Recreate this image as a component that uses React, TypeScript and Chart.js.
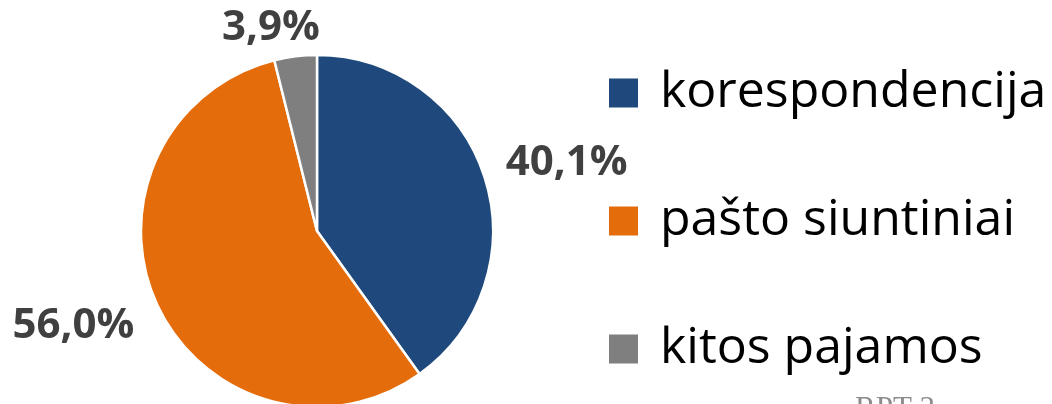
import React, { useEffect, useRef } from "react";
import { Chart, registerables } from "chart.js";

Chart.register(...registerables);

// ---- data ----
const categories = ["korespondencija", "pašto siuntiniai", "kitos pajamos"];
const shares = [40.1, 56.0, 3.9];
const valueLabels = ["40,1%", "56,0%", "3,9%"];
const sliceColors = ["#1F497D", "#E46C0A", "#7F7F7F"];
const footerText = "RPT 3";

// ---- styling ----
const LABEL_FONT = 'bold 42px "Open Sans"';
const LEGEND_FONT = '50px "Open Sans"';
const labelNudges = [
  [8, 10],
  [-14, -11],
  [-20, 8],
];

const labelsPlugin = {
  id: "outsideLabels",
  afterDatasetsDraw(chart: any) {
    const ctx = chart.ctx;
    const meta = chart.getDatasetMeta(0);
    ctx.save();
    ctx.font = LABEL_FONT;
    ctx.fillStyle = "#404040";
    ctx.textAlign = "center";
    ctx.textBaseline = "middle";
    meta.data.forEach((arc: any, i: number) => {
      const { x, y, startAngle, endAngle, outerRadius } = arc.getProps(
        ["x", "y", "startAngle", "endAngle", "outerRadius"],
        true
      );
      const mid = (startAngle + endAngle) / 2;
      const cx = Math.cos(mid);
      const sy = Math.sin(mid);
      const text = valueLabels[i];
      const w = ctx.measureText(text).width;
      const h = 32;
      const ext = (Math.abs(cx) * w) / 2 + (Math.abs(sy) * h) / 2;
      const d = outerRadius + 15 + ext;
      const [nx, ny] = labelNudges[i];
      ctx.fillText(text, x + cx * d + nx, y + sy * d + ny);
    });
    ctx.restore();
  },
};

const legendPlugin = {
  id: "sideLegend",
  afterDraw(chart: any) {
    const ctx = chart.ctx;
    const boxLeft = 609;
    const box = 29;
    const firstCenter = 93;
    const step = 128;
    ctx.save();
    ctx.font = LEGEND_FONT;
    ctx.textAlign = "left";
    ctx.textBaseline = "alphabetic";
    categories.forEach((name, i) => {
      const cy = firstCenter + i * step;
      ctx.fillStyle = sliceColors[i];
      ctx.fillRect(boxLeft, cy - box / 2, box, box);
      ctx.fillStyle = "#000000";
      ctx.fillText(name, 660, cy + 14);
    });
    ctx.restore();
  },
};

const footerPlugin = {
  id: "footer",
  afterDraw(chart: any) {
    const ctx = chart.ctx;
    ctx.save();
    ctx.font = '31px "Liberation Serif"';
    ctx.fillStyle = "#8C8C8C";
    ctx.textAlign = "left";
    ctx.textBaseline = "alphabetic";
    ctx.fillText(footerText, 855, 418);
    ctx.restore();
  },
};

export default function App() {
  const ref = useRef<HTMLCanvasElement>(null);
  useEffect(() => {
    document.body.style.margin = "0";
    const chart = new Chart(ref.current as HTMLCanvasElement, {
      type: "pie",
      data: {
        labels: categories,
        datasets: [
          {
            data: shares,
            backgroundColor: sliceColors,
            borderColor: "#FFFFFF",
            borderWidth: 2.5,
            clip: false,
          } as any,
        ],
      },
      options: {
        responsive: false,
        animation: false,
        radius: 176,
        layout: { padding: { left: 0, right: 418, top: 58, bottom: 0 } },
        plugins: {
          legend: { display: false },
          tooltip: { enabled: false },
        },
      } as any,
      plugins: [labelsPlugin, legendPlugin, footerPlugin],
    });
    return () => chart.destroy();
  }, []);
  return (
    <div style={{ width: 1052, height: 404, background: "#FFFFFF" }}>
      <canvas ref={ref} width={1052} height={404} style={{ display: "block" }} />
    </div>
  );
}
